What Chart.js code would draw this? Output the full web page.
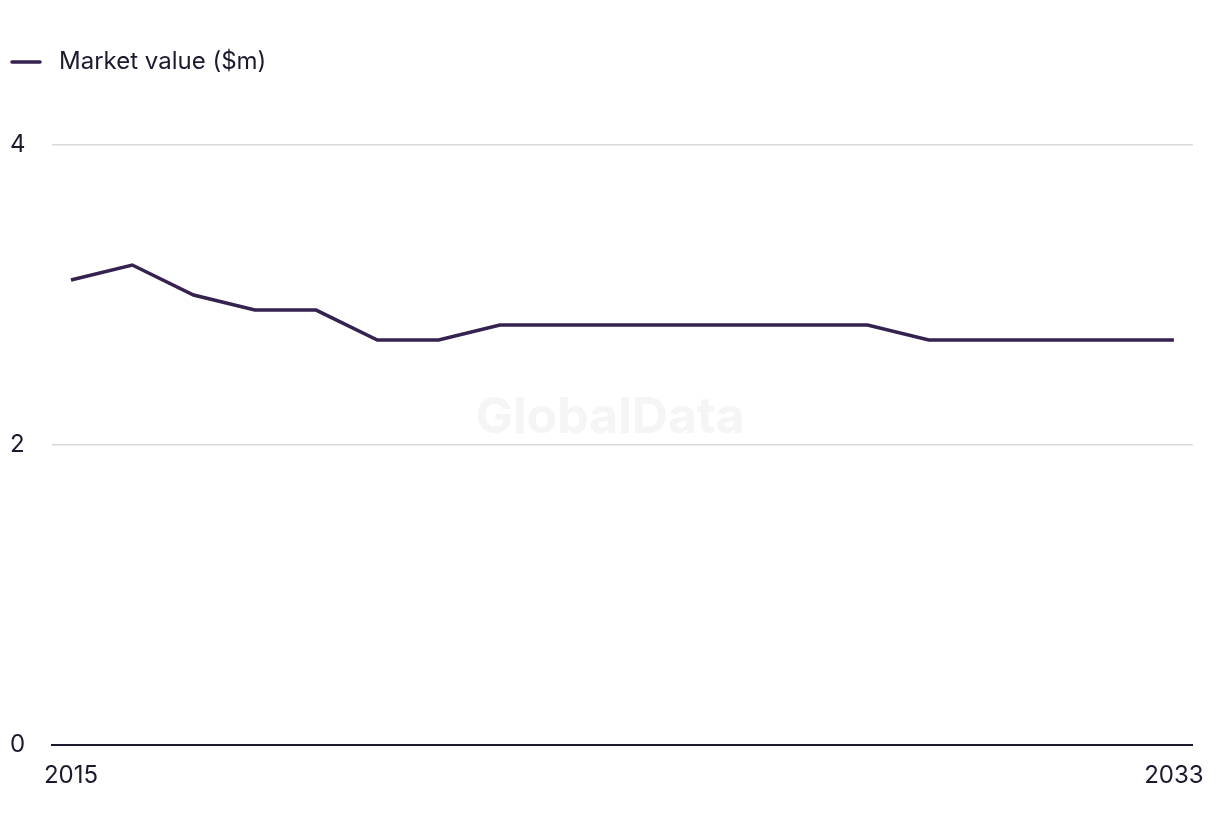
<!DOCTYPE html>
<html>
<head>
<meta charset="utf-8">
<script src="https://cdn.jsdelivr.net/npm/chart.js@4"></script>
<style>
  html, body { margin: 0; padding: 0; background: #fff; }
  #wrap { width: 1220px; height: 836px; position: relative; }
</style>
</head>
<body>
<div id="wrap"><canvas id="chart"></canvas></div>
<script>
// chart data
const years = [2015, 2016, 2017, 2018, 2019, 2020, 2021, 2022, 2023, 2024,
  2025, 2026, 2027, 2028, 2029, 2030, 2031, 2032, 2033];
const marketValue = [3.1, 3.2, 3.0, 2.9, 2.9, 2.7, 2.7, 2.8, 2.8, 2.8,
  2.8, 2.8, 2.8, 2.8, 2.7, 2.7, 2.7, 2.7, 2.7];
const xTickLabels = [2015, 2033];
const yTickValues = [0, 2, 4];
const seriesLabel = 'Market value ($m)';

const lineColor = '#35224f';
const textColor = '#1b1a2e';
const fontFamily = 'Inter, "Noto Sans", sans-serif';

// faint watermark behind the line
const watermark = {
  id: 'watermark',
  beforeDatasetsDraw(chart) {
    const { ctx } = chart;
    ctx.save();
    ctx.font = 'bold 50px ' + fontFamily;
    ctx.fillStyle = '#f5f5f5';
    ctx.textAlign = 'center';
    ctx.textBaseline = 'middle';
    ctx.fillText('GlobalData', chart.width / 2, 418);
    ctx.restore();
  }
};

// legend drawn by hand: short line + label, top left
const topLegend = {
  id: 'topLegend',
  afterDraw(chart) {
    const { ctx } = chart;
    const ds = chart.data.datasets[0];
    ctx.save();
    ctx.strokeStyle = ds.borderColor;
    ctx.lineWidth = 3.5;
    ctx.lineCap = 'round';
    ctx.beginPath();
    ctx.moveTo(12, 62);
    ctx.lineTo(40, 62);
    ctx.stroke();
    ctx.fillStyle = textColor;
    ctx.font = '24px ' + fontFamily;
    ctx.textBaseline = 'middle';
    ctx.fillText(ds.label, 59, 62);
    ctx.restore();
  }
};

const ctx = document.getElementById('chart').getContext('2d');
new Chart(ctx, {
  type: 'line',
  data: {
    datasets: [{
      label: seriesLabel,
      data: years.map((y, i) => ({ x: y, y: marketValue[i] })),
      borderColor: lineColor,
      backgroundColor: lineColor,
      borderWidth: 3.5,
      pointRadius: 0,
      tension: 0
    }]
  },
  options: {
    responsive: true,
    maintainAspectRatio: false,
    animation: false,
    layout: { padding: { left: 10, right: 23, top: 145, bottom: 30 } },
    plugins: {
      tooltip: { enabled: false },
      legend: { display: false }
    },
    scales: {
      x: {
        type: 'linear',
        min: 2015 - 0.31,
        max: 2033 + 0.31,
        afterBuildTicks(axis) {
          axis.ticks = xTickLabels.map(v => ({ value: v }));
        },
        grid: { display: false, drawTicks: false },
        border: { display: true, color: textColor, width: 2 },
        ticks: {
          color: textColor,
          padding: 16,
          maxRotation: 0,
          autoSkip: false,
          font: { family: fontFamily, size: 24 },
          callback: v => String(v)
        }
      },
      y: {
        min: 0,
        max: 4,
        afterBuildTicks(axis) {
          axis.ticks = yTickValues.map(v => ({ value: v }));
        },
        afterFit(axis) { axis.width = 42; },
        grid: { color: '#d9d9d9', lineWidth: 1.5, drawTicks: false },
        border: { display: false },
        ticks: {
          color: textColor,
          crossAlign: 'far',
          padding: 0,
          font: { family: fontFamily, size: 24 }
        }
      }
    }
  },
  plugins: [watermark, topLegend]
});
</script>
</body>
</html>
